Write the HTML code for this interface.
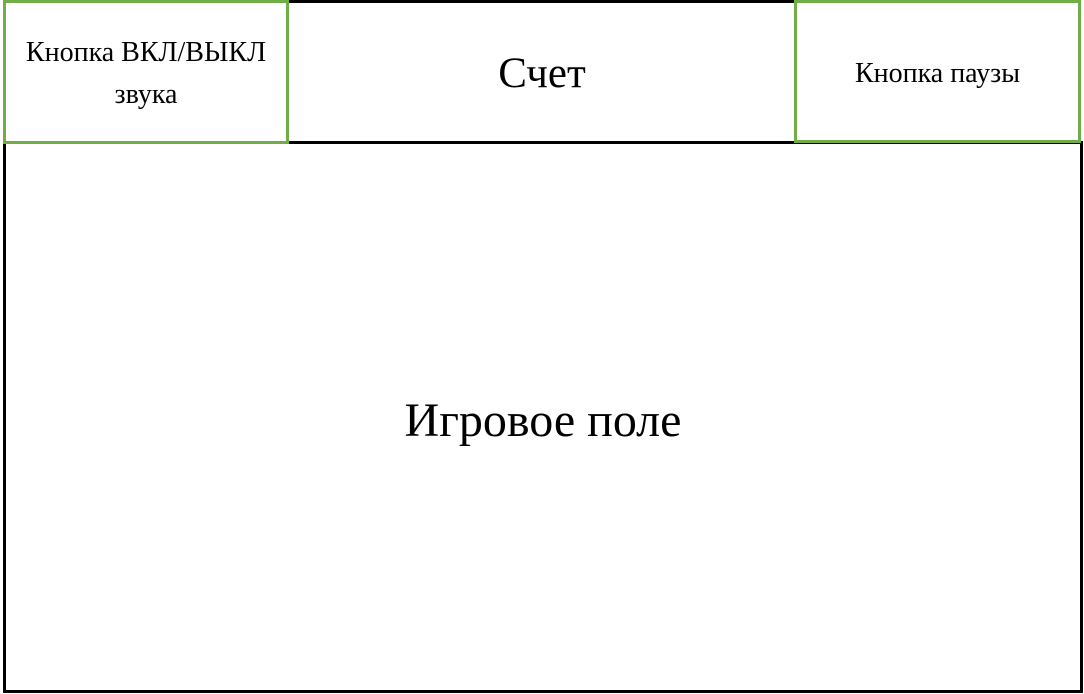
<!DOCTYPE html>
<html><head><meta charset="utf-8"><style>
body{margin:0;width:1084px;height:694px;background:#fff;position:relative;overflow:hidden;font-family:"Liberation Serif",serif;color:#000}
div{position:absolute;box-sizing:border-box}
.t{display:flex;align-items:center;justify-content:center;text-align:center}
</style></head><body>
<div class="t" style="left:3px;top:141px;width:1080px;height:552px;border:3px solid #000;font-size:48px;padding-top:6px">Игровое поле</div>
<div class="t" style="left:286px;top:0;width:512px;height:144px;border-top:3px solid #000;border-bottom:3px solid #000;font-size:43px;padding-top:2px">Счет</div>
<div class="t" style="left:3px;top:0;width:286px;height:144px;border:3px solid #70ad47;background:#fff;font-size:28px;line-height:42px;padding-top:4px">Кнопка ВКЛ/ВЫКЛ<br>звука</div>
<div class="t" style="left:794px;top:0;width:287px;height:143px;border:3px solid #70ad47;background:#fff;font-size:28px;padding-top:4px">Кнопка паузы</div>
</body></html>
